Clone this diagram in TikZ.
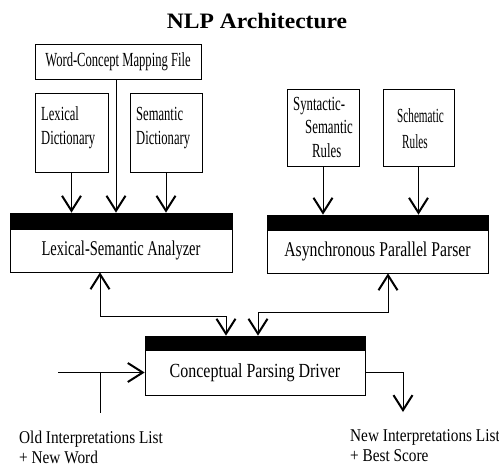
\documentclass[tikz,border=0pt]{standalone}
\usepackage{graphicx}
\usepackage{fontspec}
\setmainfont{Liberation Serif}
\usetikzlibrary{arrows.meta,calc}
\newcommand\cnd[3]{\fontsize{#1}{#1}\selectfont\scalebox{#2}[1]{#3}}
\begin{document}
\begin{tikzpicture}[x=1pt,y=-1pt,
  box/.style={draw,line width=0.7pt,inner sep=0pt},
  bar/.style={fill=black,draw=black,line width=0.7pt,inner sep=0pt},
  lbl/.style={inner sep=0pt,anchor=base west},
  tip/.tip={Straight Barb[length=15pt,width=19pt,line width=2pt]},
  arr/.style={line width=0.8pt,-tip},
  arrb/.style={line width=0.8pt,tip-tip}]
\useasboundingbox (0,0) rectangle (499,475);

% title
\node[inner sep=0pt,anchor=base] (title) at (257,28)
  {\fontsize{22}{22}\selectfont\bfseries\scalebox{1.07}[1]{NLP Architecture}};

% source boxes
\node[box,minimum width=166pt,minimum height=35pt] (wcm) at (118,61.5)
  {\cnd{20}{0.63}{Word-Concept Mapping File}};
\node[box,minimum width=73pt,minimum height=79pt] (lexd) at (71.5,132.5) {};
\node[box,minimum width=72pt,minimum height=79pt] (semd) at (166,132.5) {};
\node[box,minimum width=72pt,minimum height=77pt] (ssr) at (323,127.5) {};
\node[box,minimum width=71pt,minimum height=77pt] (scr) at (418.5,127.5) {};

\node[lbl] (lexd1) at (41,120) {\cnd{20}{0.63}{Lexical}};
\node[lbl] (lexd2) at (41,144) {\cnd{20}{0.63}{Dictionary}};
\node[lbl] (semd1) at (136,120) {\cnd{20}{0.63}{Semantic}};
\node[lbl] (semd2) at (136,144) {\cnd{20}{0.63}{Dictionary}};
\node[lbl] (ssr1) at (293,110) {\cnd{20}{0.64}{Syntactic-}};
\node[lbl] (ssr2) at (305,133) {\cnd{20}{0.64}{Semantic}};
\node[lbl] (ssr3) at (312,157) {\cnd{20}{0.64}{Rules}};
\node[lbl] (scr1) at (397,122) {\cnd{20}{0.56}{Schematic}};
\node[lbl] (scr2) at (402,148) {\cnd{20}{0.56}{Rules}};

% processing boxes
\node[bar,minimum width=222pt,minimum height=16pt] (lsabar) at (121,221) {};
\node[box,minimum width=222pt,minimum height=43pt] (lsa) at (121,250.5)
  {\cnd{21}{0.69}{Lexical-Semantic Analyzer}};
\node[bar,minimum width=221pt,minimum height=15pt] (appbar) at (377.5,222.5) {};
\node[box,minimum width=221pt,minimum height=43pt] (app) at (377.5,251.5)
  {\cnd{21}{0.75}{Asynchronous Parallel Parser}};
\node[bar,minimum width=220pt,minimum height=14pt] (cpdbar) at (255,343) {};
\node[box,minimum width=220pt,minimum height=45pt] (cpd) at (255,372.5)
  {\cnd{20}{0.8}{Conceptual Parsing Driver}};

% input / output labels
\node[lbl] (old1) at (19,443) {\cnd{18}{0.85}{Old Interpretations List}};
\node[lbl] (old2) at (19,463) {\cnd{18}{0.85}{+ New Word}};
\node[lbl] (new1) at (350,441) {\cnd{18}{0.85}{New Interpretations List}};
\node[lbl] (new2) at (350,461) {\cnd{18}{0.85}{+ Best Score}};

% arrows into analyzers
\draw[arr] (lexd.south) -- (lexd.south |- lsabar.north);
\draw[arr] ([xshift=-2pt]wcm.south) -- ([xshift=-2pt]wcm.south |- lsabar.north);
\draw[arr] (semd.south) -- (semd.south |- lsabar.north);
\draw[arr] (ssr.south) -- (ssr.south |- appbar.north);
\draw[arr] (scr.south) -- (scr.south |- appbar.north);

% feedback connectors
\coordinate (k1) at (100,316);
\coordinate (k2) at (226,316);
\draw[arrb] (k1 |- lsa.south) -- (k1) -- (k2) -- (k2 |- cpdbar.north);
\coordinate (k3) at (388,312);
\coordinate (k4) at (258,312);
\draw[arrb] (k3 |- app.south) -- (k3) -- (k4) -- (k4 |- cpdbar.north);

% input and output
\coordinate (in) at (58,372.5);
\draw[arr] (in) -- (cpd.west);
\coordinate (t1) at (100,372.5);
\coordinate (t2) at (100,413);
\draw[line width=0.5pt] (t1) -- (t2);
\coordinate (o1) at (403,412);
\draw[arr] (cpd.east) -| (o1);
\end{tikzpicture}
\end{document}
